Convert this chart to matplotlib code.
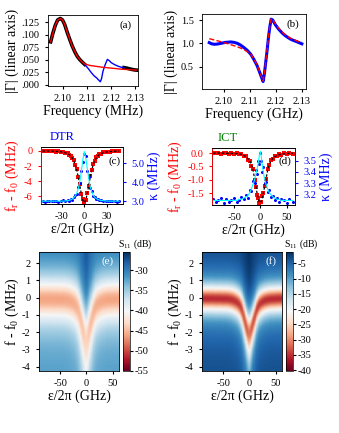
import numpy as np
import matplotlib
matplotlib.use('Agg')
from matplotlib import pyplot
from matplotlib.ticker import FuncFormatter

pyplot.rcParams['font.family'] = 'Liberation Serif'
pyplot.rcParams['mathtext.fontset'] = 'custom'
pyplot.rcParams['mathtext.rm'] = 'Liberation Serif'
pyplot.rcParams['mathtext.it'] = 'Liberation Serif:italic'
pyplot.rcParams['axes.unicode_minus'] = False
pyplot.rcParams['xtick.labelsize'] = 7.5
pyplot.rcParams['ytick.labelsize'] = 7.5
pyplot.rcParams['xtick.major.size'] = 2.5
pyplot.rcParams['ytick.major.size'] = 2.5
pyplot.rcParams['axes.linewidth'] = 0.6

### panel (a) : |Gamma| vs frequency
freq_a_data1 = [2.0949, 2.0958, 2.0968, 2.0978, 2.0989, 2.0998, 2.1007, 2.1017, 2.1028,
                2.1038, 2.1049, 2.1059, 2.1069, 2.1080, 2.1090]
gam_a_data1 = [0.086, 0.103, 0.119, 0.130, 0.133, 0.130, 0.121, 0.106, 0.091,
               0.078, 0.066, 0.057, 0.0506, 0.045, 0.0405]
freq_a_blue = [2.1090, 2.1105, 2.1118, 2.1130, 2.1139, 2.1148, 2.1155, 2.1160, 2.1166, 2.1175,
               2.1184, 2.1192, 2.1200, 2.1214, 2.1228, 2.1240, 2.1253]
gam_a_blue = [0.0405, 0.032, 0.0236, 0.017, 0.0136, 0.009, 0.0055, 0.012, 0.027, 0.040,
              0.0506, 0.048, 0.044, 0.040, 0.037, 0.035, 0.034]
freq_a_data2 = [2.1253, 2.1265, 2.1280, 2.1295, 2.1305]
gam_a_data2 = [0.034, 0.033, 0.031, 0.0295, 0.029]
freq_a_fit = [2.0949, 2.0958, 2.0968, 2.0978, 2.0989, 2.0998, 2.1007, 2.1017, 2.1028, 2.1038,
              2.1049, 2.1059, 2.1069, 2.1080, 2.1090, 2.1110, 2.1132, 2.1160, 2.1200, 2.1240,
              2.1270, 2.1305]
gam_a_fit = [0.086, 0.103, 0.119, 0.130, 0.133, 0.130, 0.121, 0.106, 0.091, 0.078,
             0.066, 0.057, 0.0506, 0.045, 0.0415, 0.0385, 0.037, 0.035, 0.033, 0.031,
             0.030, 0.029]

### panel (b)
freq_b = [2.0944, 2.0953, 2.0963, 2.0975, 2.0989, 2.1005, 2.1027, 2.1040, 2.1052, 2.1065,
          2.1077, 2.1090, 2.1103, 2.1115, 2.1128, 2.1140, 2.1147, 2.1151, 2.1156, 2.1161,
          2.1167, 2.1172, 2.1177, 2.1182, 2.1188, 2.1198, 2.1210, 2.1223, 2.1235, 2.1248,
          2.1260, 2.1274, 2.1287, 2.1300]
gam_b = [1.015, 0.99, 0.98, 0.985, 1.0, 1.02, 1.03, 1.02, 1.0, 0.96,
         0.91, 0.85, 0.77, 0.66, 0.52, 0.345, 0.24, 0.18, 0.35, 0.59,
         0.88, 1.15, 1.36, 1.52, 1.50, 1.40, 1.31, 1.23, 1.17, 1.12,
         1.08, 1.05, 1.02, 0.99]
freq_b_fit = [2.0944, 2.0965, 2.0989, 2.1010, 2.1030, 2.1050, 2.1077, 2.1103, 2.1115, 2.1128,
              2.1140, 2.1151, 2.1156, 2.1161, 2.1167, 2.1172, 2.1177, 2.1182, 2.1188, 2.1198,
              2.1210, 2.1223, 2.1235, 2.1248, 2.1260, 2.1274, 2.1287, 2.1300]
gam_b_fit = [1.10, 1.07, 1.035, 1.0, 0.965, 0.93, 0.87, 0.77, 0.67, 0.53,
             0.36, 0.19, 0.36, 0.60, 0.90, 1.17, 1.38, 1.53, 1.51, 1.42,
             1.33, 1.25, 1.19, 1.14, 1.10, 1.07, 1.04, 1.02]

### panel (c) DTR
eps_dtr = [-55, -52, -49, -46, -43, -40, -37, -34, -31, -28, -25,
           -22, -20, -18, -16, -14, -12, -10, -8, -6, -4, -2, 0, 2, 4, 6, 8, 10, 12, 14, 16, 18, 20, 22,
           25, 28, 31, 34, 37, 40, 43, 46]
fr_dtr_fit = [-0.02, -0.03, -0.03, -0.04, -0.05, -0.06, -0.08, -0.10, -0.13, -0.18, -0.26,
              -0.38, -0.5, -0.68, -0.92, -1.28, -1.8, -2.5, -3.4, -4.5, -5.6, -6.5, -6.8, -6.45,
              -5.6, -4.5, -3.4, -2.45, -1.75, -1.25, -0.9, -0.66, -0.5, -0.38,
              -0.26, -0.18, -0.13, -0.1, -0.08, -0.06, -0.05, -0.04]
fr_dtr = [-0.05, 0.02, -0.06, 0.0, -0.08, -0.03, -0.1, -0.06, -0.16, -0.14, -0.3,
          -0.34, -0.55, -0.62, -1.0, -1.2, -1.9, -2.4, -3.5, -4.4, -5.7, -6.4, -6.9, -6.5,
          -5.5, -4.6, -3.3, -2.5, -1.7, -1.3, -0.85, -0.7, -0.45, -0.42,
          -0.22, -0.2, -0.1, -0.13, -0.05, -0.08, -0.02, -0.06]
kap_dtr_fit = [3.0, 3.0, 3.0, 3.0, 3.0, 3.0, 3.0, 3.0, 3.0, 3.0, 3.01,
               3.02, 3.04, 3.07, 3.11, 3.18, 3.27, 3.42, 3.65, 4.0, 4.5, 5.15, 5.6, 5.25,
               4.7, 4.15, 3.75, 3.48, 3.3, 3.2, 3.13, 3.09, 3.06, 3.04,
               3.02, 3.01, 3.0, 3.0, 3.0, 3.0, 3.0, 3.0]
kap_dtr = [3.02, 2.98, 3.01, 3.03, 2.99, 3.0, 3.02, 2.98, 3.01, 3.04, 3.0,
           3.05, 3.02, 3.1, 3.08, 3.22, 3.3, 3.38, 3.72, 3.95, 4.6, 5.05, 5.45, 5.35,
           4.6, 4.25, 3.7, 3.55, 3.25, 3.24, 3.1, 3.12, 3.04, 3.06,
           3.0, 3.03, 2.99, 3.02, 3.0, 3.01, 2.98, 3.0]

### panel (d) ICT
eps_ict = [-90, -85, -80, -75, -70, -65, -60, -55, -50, -45,
           -40, -36, -32, -28, -24, -20, -17, -14, -11, -8, -6, -4, -2, 0,
           2, 4, 6, 8, 11, 14, 17, 20, 24, 28, 32, 36, 40, 45, 50, 55, 62]
fr_ict_fit = [0.0, 0.0, 0.0, 0.0, 0.0, -0.01, -0.01, -0.01, -0.02, -0.02,
              -0.03, -0.05, -0.08, -0.13, -0.2, -0.3, -0.42, -0.62, -0.95, -1.3, -1.52, -1.7, -1.82, -1.85,
              -1.8, -1.66, -1.48, -1.27, -0.95, -0.64, -0.43, -0.3, -0.2, -0.13, -0.09, -0.06, -0.04,
              -0.03, -0.02, -0.01, -0.01]
fr_ict = [0.02, -0.01, 0.01, -0.02, 0.0, 0.01, -0.03, 0.0, -0.04, -0.01,
          -0.05, -0.03, -0.1, -0.12, -0.24, -0.28, -0.47, -0.6, -1.0, -1.26, -1.58, -1.68, -1.87, -1.83,
          -1.84, -1.62, -1.5, -1.22, -0.98, -0.6, -0.46, -0.27, -0.22, -0.11, -0.1, -0.04, -0.06,
          -0.01, -0.03, 0.0, -0.02]
kap_ict_fit = [3.15, 3.15, 3.15, 3.15, 3.15, 3.15, 3.15, 3.15, 3.15, 3.15,
               3.16, 3.16, 3.17, 3.18, 3.19, 3.22, 3.25, 3.29, 3.33, 3.39, 3.43, 3.48, 3.54, 3.58,
               3.53, 3.45, 3.39, 3.34, 3.29, 3.25, 3.22, 3.2, 3.18, 3.17, 3.16, 3.16, 3.15,
               3.15, 3.15, 3.15, 3.15]
kap_ict = [3.16, 3.14, 3.15, 3.17, 3.13, 3.16, 3.14, 3.15, 3.17, 3.14,
           3.15, 3.18, 3.16, 3.2, 3.17, 3.24, 3.23, 3.32, 3.3, 3.42, 3.38, 3.5, 3.47, 3.57,
           3.5, 3.4, 3.44, 3.3, 3.31, 3.22, 3.24, 3.18, 3.19, 3.15, 3.17, 3.14, 3.16,
           3.15, 3.13, 3.16, 3.14]

W, H = 339.0, 433.0
def rect(l, t, r, b):
  return [l / W, 1 - b / H, (r - l) / W, (b - t) / H]

fig = pyplot.figure(figsize=(3.39, 4.33), dpi=100)
lab = 10

# (a)
ax = fig.add_axes(rect(48, 15, 138, 86))
ax.plot(freq_a_data1, gam_a_data1, color='black', linewidth=2.6)
ax.plot(freq_a_data2, gam_a_data2, color='black', linewidth=2.6)
ax.plot(freq_a_blue, gam_a_blue, color='blue', linewidth=1.0)
ax.plot(freq_a_fit, gam_a_fit, color='red', linewidth=1.0)
ax.set_xlim(2.0938, 2.1311)
ax.set_ylim(-0.003, 0.140)
ax.set_xticks([2.10, 2.11, 2.12, 2.13])
ax.set_yticks([0, 0.025, 0.05, 0.075, 0.1, 0.125])
ax.xaxis.set_major_formatter(FuncFormatter(lambda v, p: '%.2f' % v))
ax.yaxis.set_major_formatter(FuncFormatter(lambda v, p: ('%.3f' % v).lstrip('0')))
ax.set_xlabel('Frequency (MHz)', fontsize=lab, labelpad=1)
ax.set_ylabel('|Γ| (linear axis)', fontsize=lab, labelpad=2)
ax.text(0.86, 0.86, '(a)', transform=ax.transAxes, fontsize=8, ha='center', va='center')

# (b)
ax = fig.add_axes(rect(202, 14, 306, 89))
ax.plot(freq_b, gam_b, color='blue', linewidth=2.2)
ax.plot(freq_b_fit, gam_b_fit, color='red', linewidth=1.0, linestyle='--')
ax.set_xlim(2.0916, 2.1316)
ax.set_ylim(0.02, 1.63)
ax.set_xticks([2.10, 2.11, 2.12, 2.13])
ax.set_yticks([0.5, 1.0, 1.5])
ax.xaxis.set_major_formatter(FuncFormatter(lambda v, p: '%.2f' % v))
ax.set_xlabel('Frequency (GHz)', fontsize=lab, labelpad=1)
ax.set_ylabel('|Γ| (linear axis)', fontsize=lab, labelpad=2)
ax.text(0.875, 0.86, '(b)', transform=ax.transAxes, fontsize=8, ha='center', va='center')

def twin_panel(r, eps, fr, fr_fit, kap, kap_fit, xlim, ylim1, ylim2, xt, yt1, yt2, fmt1, tag, tagpos, title, tcol, tpos):
  ax1 = fig.add_axes(rect(*r))
  ax2 = ax1.twinx()
  ax1.plot(eps, fr, 's', color='red', markersize=2.2, markeredgewidth=0)
  ax1.plot(eps, fr_fit, color='black', linewidth=0.9, linestyle=(0, (2, 1.5)))
  ax2.plot(eps, kap, 'o', color='blue', markersize=2.2, markeredgewidth=0)
  ax2.plot(eps, kap_fit, color='cyan', linewidth=0.8)
  ax1.set_xlim(*xlim)
  ax1.set_ylim(*ylim1)
  ax2.set_ylim(*ylim2)
  ax1.set_xticks(xt)
  ax1.set_yticks(yt1)
  ax2.set_yticks(yt2)
  ax1.yaxis.set_major_formatter(FuncFormatter(lambda v, p: fmt1 % v))
  ax2.yaxis.set_major_formatter(FuncFormatter(lambda v, p: '%.1f' % v))
  ax1.tick_params(axis='y', colors='red')
  ax2.tick_params(axis='y', colors='blue')
  ax2.spines['left'].set_color('red')
  ax2.spines['right'].set_color('blue')
  ax1.set_xlabel('ε/2π (GHz)', fontsize=lab, labelpad=1)
  ax1.set_ylabel('f$_\\mathrm{r}$ - f$_\\mathrm{0}$ (MHz)', fontsize=lab, color='red', labelpad=2)
  ax2.set_ylabel('κ (MHz)', fontsize=lab, color='blue', labelpad=2)
  ax2.text(tagpos[0], tagpos[1], tag, transform=ax1.transAxes, fontsize=8, ha='center', va='center')
  fig.text(tpos[0] / W, 1 - tpos[1] / H, title, color=tcol, fontsize=9, ha='center', va='center')

twin_panel((41, 147, 123, 204), eps_dtr, fr_dtr, fr_dtr_fit, kap_dtr, kap_dtr_fit,
           (-57, 51), (-7.0, 0.5), (2.85, 5.84), [-30, 0, 30], [0, -2, -4, -6], [3.0, 4.0, 5.0],
           '%d', '(c)', (0.9, 0.745), 'DTR', 'blue', (62, 137))
twin_panel((212, 148, 295, 205), eps_ict, fr_ict, fr_ict_fit, kap_ict, kap_ict_fit,
           (-92, 66), (-1.94, 0.19), (3.11, 3.61), [-50, 0, 50], [0.0, -0.5, -1.0, -1.5],
           [3.2, 3.3, 3.4, 3.5], '%.1f', '(d)', (0.88, 0.76), 'ICT', 'green', (228, 138))

### panels (e), (f) : S11 maps built from the ICT resonance shift and linewidth
f_axis = np.linspace(-4.25, 2.65, 240)
E, F = np.meshgrid(np.array(eps_ict, dtype=float), f_axis)
shift = np.array(fr_ict_fit)[None, :]
kap = np.array(kap_ict_fit)
bro = ((kap - kap.min()) / (kap.max() - kap.min()))[None, :]

def s11_map(base0, slope, w0, dw, d0, dd, a0, da):
  w = w0 + dw * bro
  depth = d0 - dd * bro
  asym = a0 + da * bro
  delta = F - shift
  return base0 + slope * F - depth * w**2 / (w**2 + delta**2) + asym * delta * w / (w**2 + delta**2)

maps = [
  (rect(39, 252, 119, 371), rect(123, 252, 130, 371), s11_map(-29.5, 0.3, 1.2, 0.8, 16.5, 4.5, 1, 7),
   -55, -25.5, [-30, -35, -40, -45, -50, -55], '(e)', 118),
  (rect(202, 252, 282, 371), rect(286, 252, 293, 371), s11_map(-2.3, 0.1, 0.7, 0.5, 33, 5, 1, 8),
   -40.3, -1.3, [-5, -10, -15, -20, -25, -30, -35, -40], '(f)', 284),
]
for r_ax, r_cb, Z, vmin, vmax, cticks, tag, tx in maps:
  ax = fig.add_axes(r_ax)
  mesh = ax.pcolormesh(E, F, Z, shading='gouraud', cmap='RdBu', vmin=vmin, vmax=vmax, rasterized=True)
  ax.set_xlim(-90, 62)
  ax.set_ylim(-4.25, 2.65)
  ax.set_xticks([-50, 0, 50])
  ax.set_yticks([2, 1, 0, -1, -2, -3, -4])
  ax.set_xlabel('ε/2π (GHz)', fontsize=lab, labelpad=1)
  ax.set_ylabel('f - f$_\\mathrm{0}$ (MHz)', fontsize=lab, labelpad=1)
  ax.text(0.86, 0.924, tag, transform=ax.transAxes, fontsize=8, color='white', ha='center', va='center')
  cax = fig.add_axes(r_cb)
  cb = fig.colorbar(mesh, cax=cax)
  cb.set_ticks(cticks)
  cb.ax.yaxis.set_major_formatter(FuncFormatter(lambda v, p: '%d' % round(v)))
  cb.ax.tick_params(labelsize=7.5, length=2, pad=1)
  cb.outline.set_linewidth(0.5)
  fig.text(tx / W, 1 - 244 / H, 'S$_\\mathrm{11}$ (dB)', fontsize=7, ha='left', va='center')

pyplot.savefig('out.png', dpi=100)
pyplot.close()
